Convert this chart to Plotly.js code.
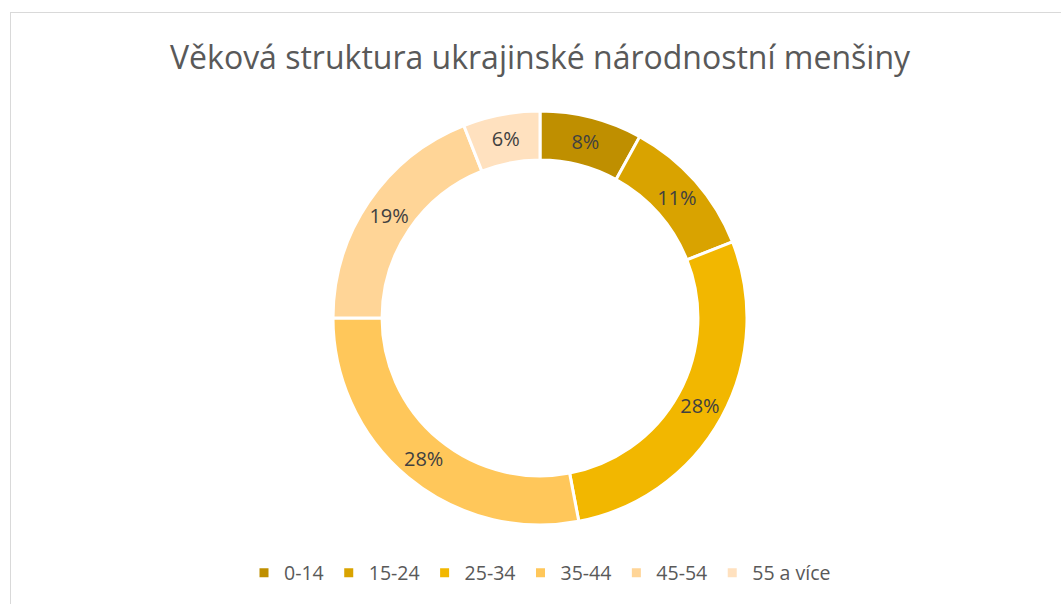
<!DOCTYPE html>
<html><head><meta charset="utf-8">
<script src="https://cdn.plot.ly/plotly-3.0.1.min.js"></script>
<style>
html,body{margin:0;padding:0;overflow:hidden;background:#fff;}
#wrap{position:relative;width:1061px;height:604px;}
#chart{position:absolute;left:0;top:0;width:1061px;height:604px;}
#frame{position:absolute;left:10px;top:12px;width:1100px;height:700px;border:1.5px solid #d9d9d9;pointer-events:none;}
</style></head>
<body><div id="wrap"><div id="chart"></div><div id="frame"></div></div>
<script>
const categories = ['0-14','15-24','25-34','35-44','45-54','55 a více'];
const values = [8, 11, 28, 28, 19, 6];
const colors = ['#BF8F00','#D9A300','#F2B700','#FFC75A','#FFD597','#FFE1BF'];
const titleText = 'Věková struktura ukrajinské národnostní menšiny';

Plotly.newPlot('chart', [{
  type: 'pie',
  labels: categories,
  values: values,
  sort: false,
  direction: 'clockwise',
  rotation: 0,
  hole: 0.763,
  marker: {colors: colors, line: {color: '#ffffff', width: 3}},
  textinfo: 'percent',
  textposition: 'inside',
  insidetextorientation: 'horizontal',
  textfont: {family: 'Open Sans, sans-serif', size: 20, color: '#404040'},
  hoverinfo: 'label+percent'
}], {
  width: 1061, height: 604,
  margin: {l: 19, r: 0, t: 111, b: 79},
  paper_bgcolor: '#ffffff',
  title: {text: titleText, x: 0.509, xanchor: 'center', y: 0.905, yanchor: 'middle',
          font: {family: 'Open Sans, sans-serif', size: 32, color: '#595959'}},
  showlegend: true,
  legend: {orientation: 'h', x: 0.5, xanchor: 'center', y: -0.116, yanchor: 'middle',
           font: {family: 'Open Sans, sans-serif', size: 19.5, color: '#595959'},
           itemwidth: 30, traceorder: 'normal'}
}, {displayModeBar: false});
</script></body></html>
